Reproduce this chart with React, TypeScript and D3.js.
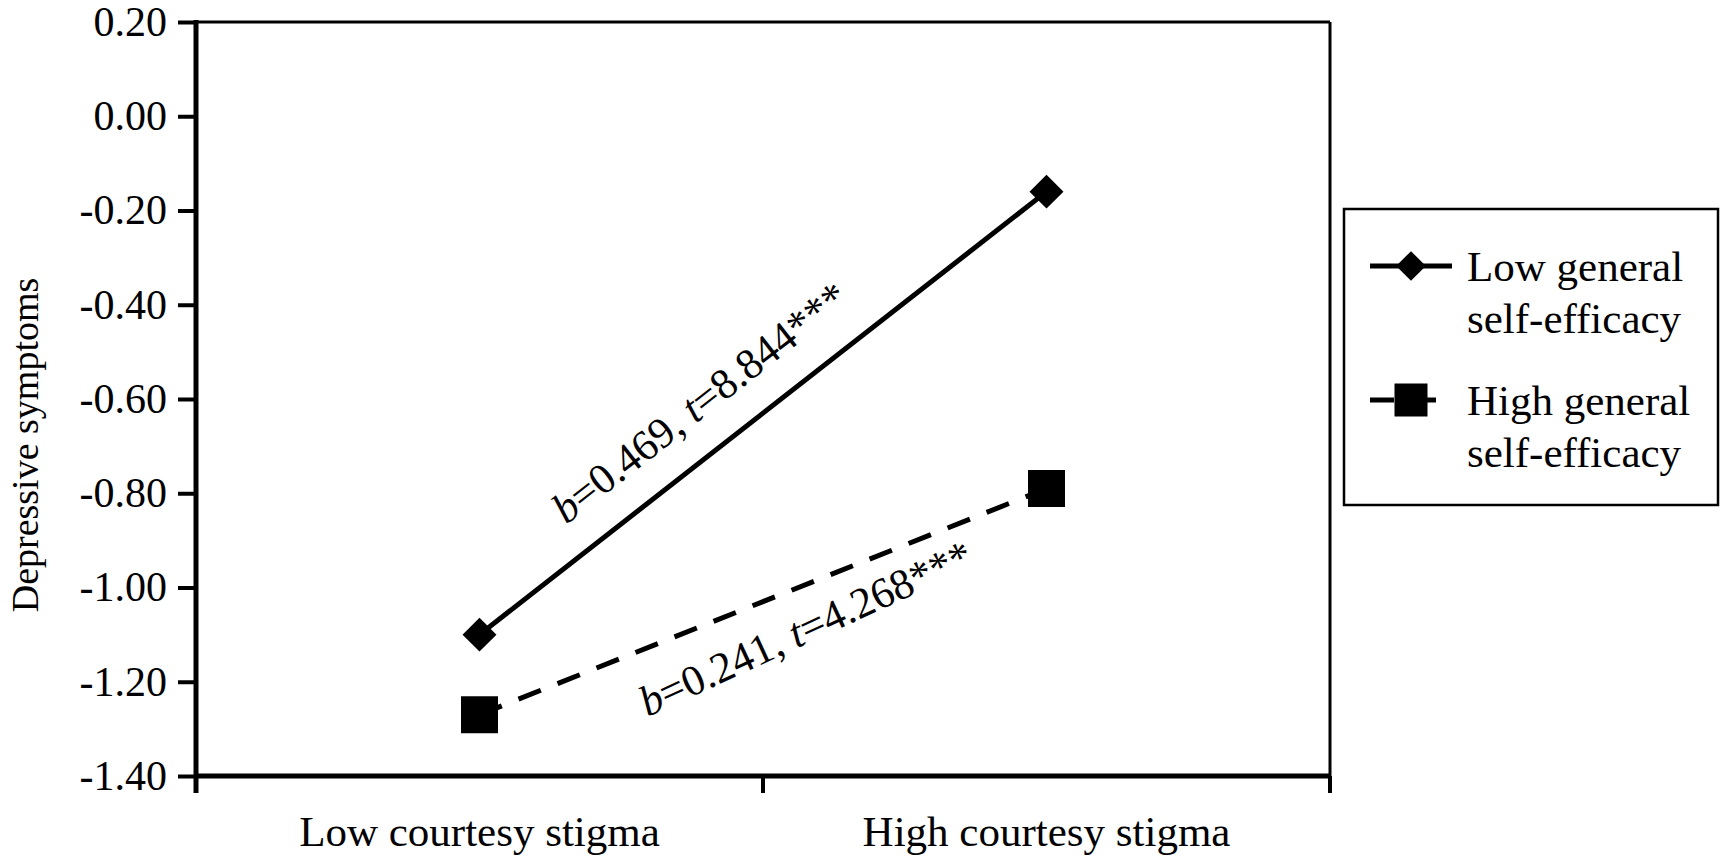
import React, { useEffect, useRef } from 'react';
import * as d3 from 'd3';

// Chart data
const categories = ["Low courtesy stigma", "High courtesy stigma"];
const lowEfficacyValues = [-1.10, -0.16];
const highEfficacyValues = [-1.27, -0.79];
const yTickValues = [0.20, 0.00, -0.20, -0.40, -0.60, -0.80, -1.00, -1.20, -1.40];
const seriesNames = ["Low general|self-efficacy", "High general|self-efficacy"];
const slopeB = ["0.469", "0.241"];
const slopeT = ["8.844", "4.268"];

const FONT = "'Liberation Serif', 'Times New Roman', serif";

export default function App() {
  const chartRef = useRef<SVGSVGElement>(null);

  useEffect(() => {
    if (!chartRef.current) return;
    const svg = d3.select(chartRef.current);
    svg.selectAll("*").remove();

    const plot = { left: 196, right: 1330, top: 22, bottom: 776 };

    const x = d3.scaleBand<string>().domain(categories).range([plot.left, plot.right]);
    const y = d3.scaleLinear().domain([-1.4, 0.2]).range([plot.bottom, plot.top]);
    const cx = (c: string) => (x(c) as number) + x.bandwidth() / 2;

    // frame (top / right thin lines)
    svg.append("line")
      .attr("x1", plot.left).attr("x2", plot.right)
      .attr("y1", plot.top).attr("y2", plot.top)
      .attr("stroke", "#000").attr("stroke-width", 3);
    svg.append("line")
      .attr("x1", plot.right).attr("x2", plot.right)
      .attr("y1", plot.top).attr("y2", plot.bottom)
      .attr("stroke", "#000").attr("stroke-width", 3);

    // y axis
    const yAxis = d3.axisLeft(y)
      .tickValues(yTickValues)
      .tickFormat(d => (+d).toFixed(2))
      .tickSize(18)
      .tickPadding(11)
      .tickSizeOuter(0);
    const yg = svg.append("g")
      .attr("transform", `translate(${plot.left},0)`)
      .call(yAxis);
    yg.select(".domain").remove();
    yg.selectAll(".tick line").attr("stroke", "#000").attr("stroke-width", 4);
    yg.selectAll(".tick text")
      .attr("fill", "#000")
      .style("font-family", FONT)
      .style("font-size", "42px");

    svg.append("line")
      .attr("x1", plot.left).attr("x2", plot.left)
      .attr("y1", plot.top - 2).attr("y2", plot.bottom + 17)
      .attr("stroke", "#000").attr("stroke-width", 5);

    // x axis
    svg.append("line")
      .attr("x1", plot.left).attr("x2", plot.right)
      .attr("y1", plot.bottom).attr("y2", plot.bottom)
      .attr("stroke", "#000").attr("stroke-width", 5);
    const xBounds = [...categories.map(c => x(c) as number), plot.right];
    svg.selectAll(".x-tick")
      .data(xBounds)
      .enter()
      .append("line")
      .attr("class", "x-tick")
      .attr("x1", d => d).attr("x2", d => d)
      .attr("y1", plot.bottom).attr("y2", plot.bottom + 17)
      .attr("stroke", "#000").attr("stroke-width", 4);
    svg.selectAll(".x-label")
      .data(categories)
      .enter()
      .append("text")
      .attr("class", "x-label")
      .attr("x", d => cx(d))
      .attr("y", 846)
      .attr("text-anchor", "middle")
      .style("font-family", FONT)
      .style("font-size", "43px")
      .text(d => d);

    // y axis title
    svg.append("text")
      .attr("transform", "translate(38,445) rotate(-90)")
      .attr("text-anchor", "middle")
      .style("font-family", FONT)
      .style("font-size", "38px")
      .text("Depressive symptoms");

    // series lines
    const series = [lowEfficacyValues, highEfficacyValues];
    const line = d3.line<number>()
      .x((d, i) => cx(categories[i]))
      .y(d => y(d));

    svg.append("path")
      .datum(lowEfficacyValues)
      .attr("d", line)
      .attr("fill", "none")
      .attr("stroke", "#000")
      .attr("stroke-width", 5);
    svg.append("path")
      .datum(highEfficacyValues)
      .attr("d", line)
      .attr("fill", "none")
      .attr("stroke", "#000")
      .attr("stroke-width", 5)
      .attr("stroke-dasharray", "24 18");

    const diamond = d3.symbol().type(d3.symbolSquare).size(24 * 24);
    const square = d3.symbol().type(d3.symbolSquare).size(37 * 37);

    svg.selectAll(".pt-low")
      .data(lowEfficacyValues)
      .enter()
      .append("path")
      .attr("class", "pt-low")
      .attr("d", diamond)
      .attr("transform", (d, i) => `translate(${cx(categories[i])},${y(d)}) rotate(45)`)
      .attr("fill", "#000");
    svg.selectAll(".pt-high")
      .data(highEfficacyValues)
      .enter()
      .append("path")
      .attr("class", "pt-high")
      .attr("d", square)
      .attr("transform", (d, i) => `translate(${cx(categories[i])},${y(d)})`)
      .attr("fill", "#000");

    // slope annotations
    const annot = [
      { frac: 0.44, offset: -33, tilt: 0 },
      { frac: 0.55, offset: 55, tilt: -3 },
    ];
    series.forEach((vals, si) => {
      const x0 = cx(categories[0]), y0 = y(vals[0]);
      const x1 = cx(categories[1]), y1 = y(vals[1]);
      const ang = Math.atan2(y1 - y0, x1 - x0);
      const { frac, offset, tilt } = annot[si];
      const px = x0 + (x1 - x0) * frac - Math.sin(ang) * offset;
      const py = y0 + (y1 - y0) * frac + Math.cos(ang) * offset;
      const deg = (ang * 180) / Math.PI + tilt;
      const t = svg.append("text")
        .attr("transform", `translate(${px},${py}) rotate(${deg})`)
        .attr("text-anchor", "middle")
        .style("font-family", FONT)
        .style("font-size", "43px");
      t.append("tspan").style("font-style", "italic").text("b");
      t.append("tspan").text(`=${slopeB[si]}, `);
      t.append("tspan").style("font-style", "italic").text("t");
      t.append("tspan").text(`=${slopeT[si]}***`);
    });

    // legend
    const legend = svg.append("g");
    legend.append("rect")
      .attr("x", 1344).attr("y", 209)
      .attr("width", 374).attr("height", 296)
      .attr("fill", "#fff")
      .attr("stroke", "#000")
      .attr("stroke-width", 2.5);

    seriesNames.forEach((name, i) => {
      const rowY = 266 + i * 134;
      legend.append("line")
        .attr("x1", 1370).attr("x2", 1452)
        .attr("y1", rowY).attr("y2", rowY)
        .attr("stroke", "#000")
        .attr("stroke-width", 5)
        .attr("stroke-dasharray", i === 1 ? "24 18" : null);
      legend.append("path")
        .attr("d", i === 0 ? d3.symbol().type(d3.symbolSquare).size(21 * 21)() : d3.symbol().type(d3.symbolSquare).size(33 * 33)())
        .attr("transform", `translate(1411,${rowY})${i === 0 ? " rotate(45)" : ""}`)
        .attr("fill", "#000");
      name.split("|").forEach((part, j) => {
        legend.append("text")
          .attr("x", 1467)
          .attr("y", rowY + 15 + j * 52)
          .style("font-family", FONT)
          .style("font-size", "43px")
          .text(part);
      });
    });
  }, []);

  return (
    <svg
      ref={chartRef}
      width={1727}
      height={862}
      style={{ position: "absolute", left: 0, top: 0, background: "#fff" }}
    />
  );
}
